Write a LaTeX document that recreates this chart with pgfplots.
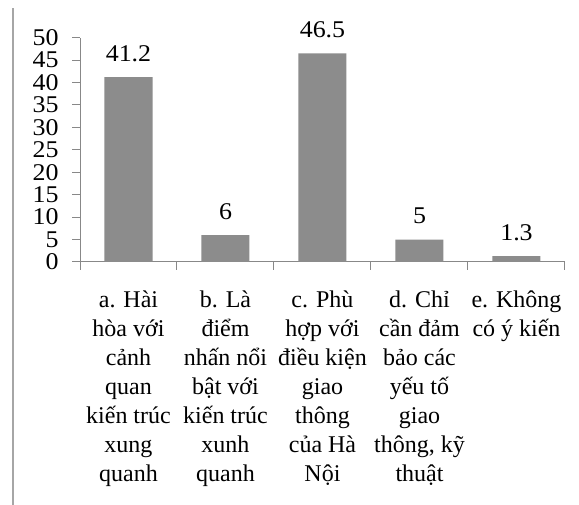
\documentclass[border=0pt]{standalone}
\usepackage{pgfplots}
\pgfplotsset{compat=1.18}
\usepackage{fontspec}
\setmainfont{Liberation Serif}
\newfontfamily\numfont[FakeStretch=1.08]{Liberation Serif}
\definecolor{barc}{HTML}{8C8C8C}
\definecolor{axc}{HTML}{888888}
\definecolor{brd}{HTML}{A6A6A6}
\begin{document}
\begin{tikzpicture}[x=1pt,y=1pt]
\useasboundingbox (0,0) rectangle (579,505);
\draw[brd, line width=1.7pt] (13,0) -- (13,497);
\begin{axis}[
  at={(80pt,243pt)}, anchor=south west,
  scale only axis, width=485pt, height=224.3pt,
  xmin=0.5, xmax=5.5, ymin=0, ymax=50,
  axis lines=left,
  axis line style={axc, line width=1pt, -},
  every tick/.style={axc, line width=1pt},
  tick align=outside,
  major tick length=8pt,
  ytick={0,5,...,50},
  xtick={0.5,1.5,...,5.5},
  xticklabels={},
  extra x ticks={1,2,3,4,5},
  extra x tick labels={
    {a. Hài\\hòa với\\cảnh\\quan\\kiến trúc\\xung\\quanh},
    {b. Là\\điểm\\nhấn nổi\\bật với\\kiến trúc\\xunh\\quanh},
    {c. Phù\\hợp với\\điều kiện\\giao\\thông\\của Hà\\Nội},
    {d. Chỉ\\cần đảm\\bảo các\\yếu tố\\giao\\thông, kỹ\\thuật},
    {e. Không\\có ý kiến}},
  extra x tick style={major tick length=0pt},
  xticklabel style={font=\fontsize{24}{29}\selectfont, align=center, anchor=north, yshift=-25pt},
  /pgf/number format/assume math mode=true,
  yticklabel style={font=\numfont\fontsize{24}{24}\selectfont, xshift=-10pt},
  ybar, bar width=48pt,
  nodes near coords,
  nodes near coords style={font=\numfont\fontsize{24}{24}\selectfont, text=black, yshift=12pt},
  clip=false,
]
\addplot[fill=barc, draw=none] coordinates {(1,41.2) (2,6) (3,46.5) (4,5) (5,1.3)};
\end{axis}
\end{tikzpicture}
\end{document}
